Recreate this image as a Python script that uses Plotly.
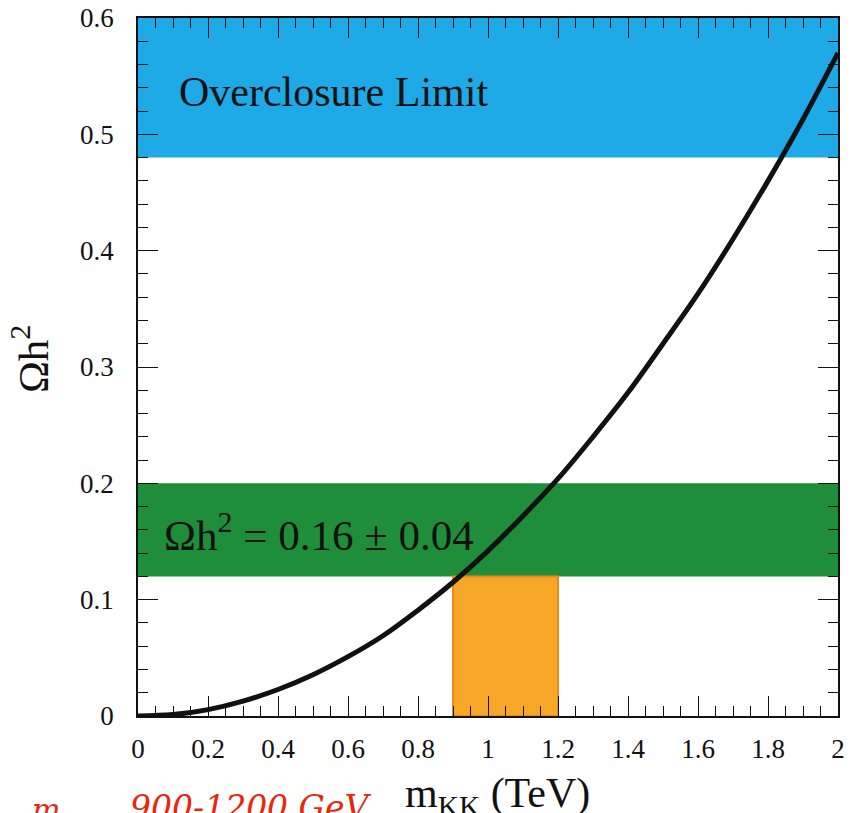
import plotly.graph_objects as go

# Data
m_kk = [0.0, 0.1, 0.2, 0.3, 0.4, 0.5, 0.6, 0.7, 0.8, 0.9, 1.0,
        1.1, 1.2, 1.3, 1.4, 1.5, 1.6, 1.7, 1.8, 1.9, 2.0]
omega_h2 = [0.0, 0.0012, 0.0055, 0.0128, 0.0228, 0.0355, 0.051, 0.069, 0.091, 0.115, 0.142,
            0.172, 0.204, 0.240, 0.278, 0.320, 0.363, 0.410, 0.460, 0.513, 0.570]

overclosure_band = [0.48, 0.6]
wmap_band = [0.12, 0.20]
allowed_mass = [0.9, 1.2]

x_range = [0, 2]
y_range = [0, 0.6]
x_ticks = [0, 0.2, 0.4, 0.6, 0.8, 1, 1.2, 1.4, 1.6, 1.8, 2]
x_ticklabels = ["0", "0.2", "0.4", "0.6", "0.8", "1", "1.2", "1.4", "1.6", "1.8", "2"]
y_ticks = [0, 0.1, 0.2, 0.3, 0.4, 0.5, 0.6]
y_ticklabels = ["0", "0.1", "0.2", "0.3", "0.4", "0.5", "0.6"]

SERIF = "Liberation Serif"

fig = go.Figure()
fig.add_trace(go.Scatter(x=m_kk, y=omega_h2, mode="lines",
                         line=dict(color="#111111", width=5, shape="spline", smoothing=1.0),
                         showlegend=False, hoverinfo="skip"))

fig.add_shape(type="rect", xref="x", yref="y", x0=x_range[0], x1=x_range[1],
              y0=overclosure_band[0], y1=overclosure_band[1],
              fillcolor="#1DAAE6", line=dict(width=0), layer="below")
fig.add_shape(type="rect", xref="x", yref="y", x0=x_range[0], x1=x_range[1],
              y0=wmap_band[0], y1=wmap_band[1],
              fillcolor="#1F8E3B", line=dict(width=0), layer="below")
fig.add_shape(type="rect", xref="x", yref="y", x0=allowed_mass[0], x1=allowed_mass[1],
              y0=0, y1=wmap_band[0],
              fillcolor="#F7A727", line=dict(width=2, color="#EE8A1C"), layer="below")

fig.add_annotation(x=0.11, y=0.536, xref="x", yref="y", xanchor="left", yanchor="middle",
                   text="Overclosure Limit", showarrow=False,
                   font=dict(family=SERIF, size=42, color="#111111"))
fig.add_annotation(x=0.068, y=0.158, xref="x", yref="y", xanchor="left", yanchor="middle",
                   text="Ωh<sup>2</sup> = 0.16 ± 0.04", showarrow=False,
                   font=dict(family=SERIF, size=43, color="#111111"))

# axis titles
fig.add_annotation(x=0.513, y=-0.115, xref="paper", yref="paper", xanchor="center", yanchor="middle",
                   text="m<sub>KK</sub> (TeV)", showarrow=False,
                   font=dict(family=SERIF, size=42, color="#111111"))
fig.add_annotation(x=-0.155, y=0.512, xref="paper", yref="paper", xanchor="center", yanchor="middle",
                   text="Ωh<sup>2</sup>", showarrow=False, textangle=-90,
                   font=dict(family=SERIF, size=43, color="#111111"))

# handwritten note (cut off at the bottom)
fig.add_annotation(x=-0.154, y=-0.106, xref="paper", yref="paper", xanchor="left", yanchor="top",
                   text="<i>m</i>", showarrow=False,
                   font=dict(family="DejaVu Serif", size=30, color="#E8260C"))
fig.add_annotation(x=-0.014, y=-0.1, xref="paper", yref="paper", xanchor="left", yanchor="top",
                   text="<i>900-1200 GeV</i>", showarrow=False,
                   font=dict(family="DejaVu Serif", size=33, color="#E8260C"))

axis_common = dict(showline=True, linecolor="#111111", linewidth=1.5, mirror="allticks",
                   ticks="inside", tickcolor="#111111", tickwidth=1.2,
                   showgrid=False, zeroline=False, automargin=False,
                   tickfont=dict(family=SERIF, size=27, color="#111111"))

fig.update_xaxes(range=x_range, tickvals=x_ticks, ticktext=x_ticklabels, ticklen=20,
                 minor=dict(ticks="inside", dtick=0.05, ticklen=10, tickcolor="#111111", tickwidth=1.2),
                 ticklabelstandoff=8, **axis_common)
fig.update_yaxes(range=y_range, tickvals=y_ticks, ticktext=y_ticklabels, ticklen=20,
                 minor=dict(ticks="inside", dtick=0.02, ticklen=10, tickcolor="#111111", tickwidth=1.2),
                 ticklabelstandoff=17, **axis_common)

fig.update_layout(width=851, height=813,
                  margin=dict(l=138, r=13, t=18, b=97),
                  paper_bgcolor="white", plot_bgcolor="white",
                  showlegend=False)

# remove the default page margin so the figure fills the window exactly
fig.write_html("out.html", config={"displayModeBar": False},
               post_script="document.body.style.margin='0';")
